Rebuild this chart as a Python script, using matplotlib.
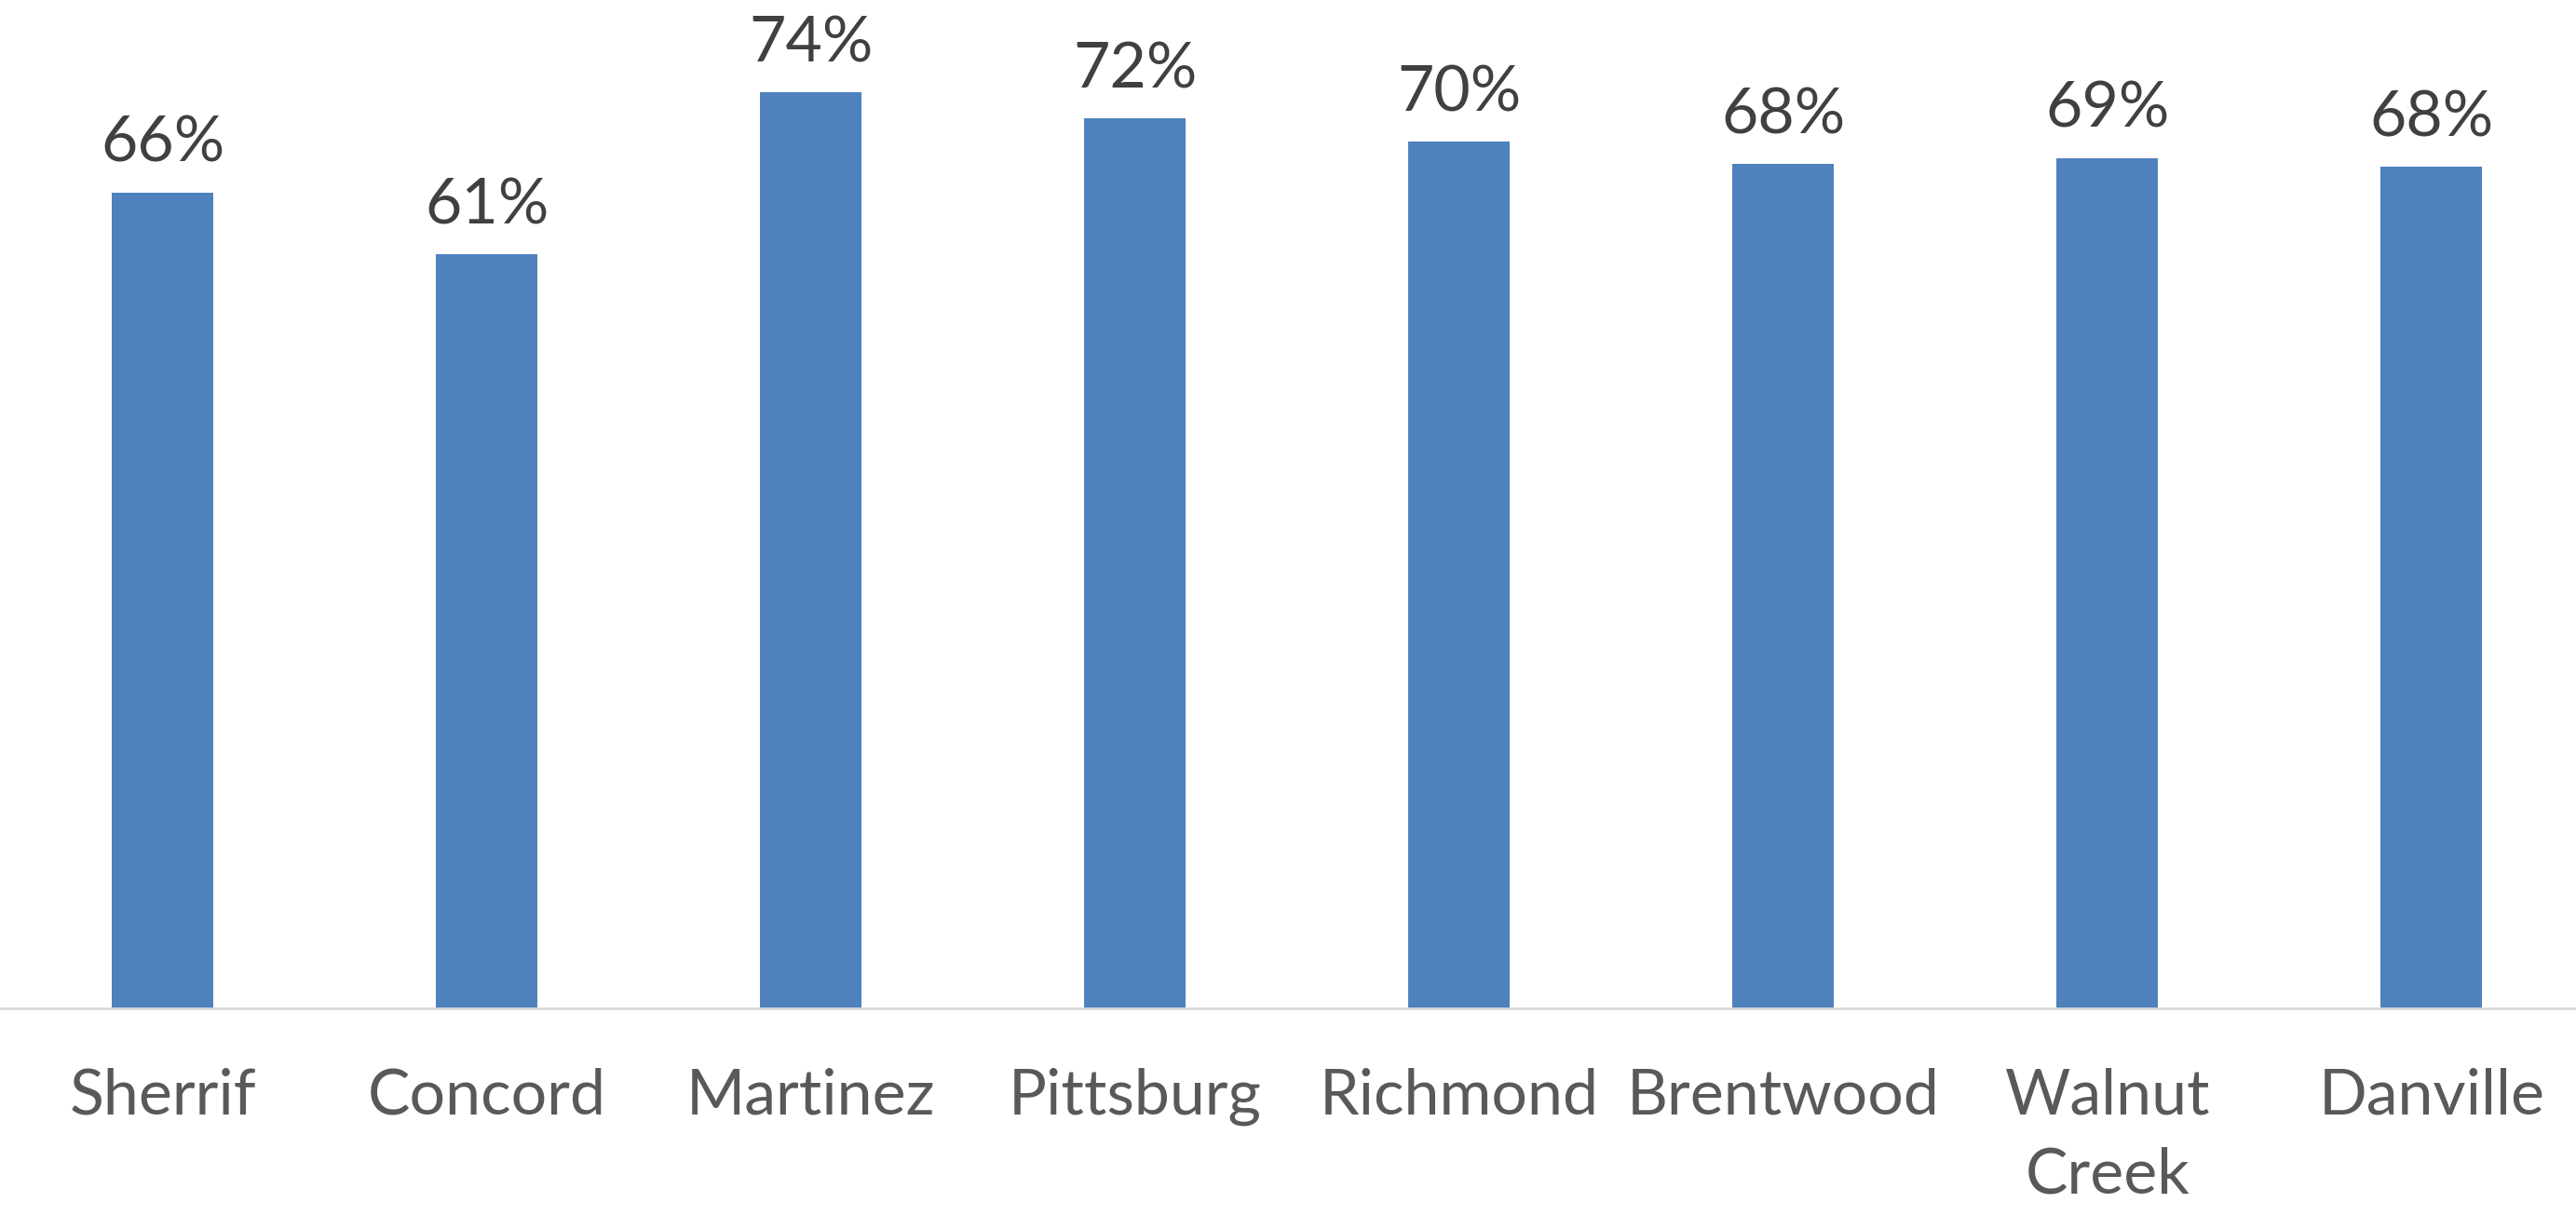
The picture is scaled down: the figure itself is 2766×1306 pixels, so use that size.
import numpy as np
import matplotlib
matplotlib.use('Agg')
import matplotlib.pyplot as plt

plt.rcParams['font.family'] = ['Lato', 'DejaVu Sans']

# data
sites = ['Sherrif', 'Concord', 'Martinez', 'Pittsburg', 'Richmond', 'Brentwood', 'Walnut\nCreek', 'Danville']
rates = [0.660, 0.610, 0.741, 0.720, 0.701, 0.683, 0.688, 0.681]

fig = plt.figure(figsize=(27.66, 13.06), dpi=100)
ax = fig.add_axes([0.0, 0.1708, 1.0, 0.8132])

x = np.arange(len(sites))
bars = ax.bar(x, rates, width=0.314, color='#4F81BD', zorder=2)

for b, r in zip(bars, rates):
    ax.annotate(f'{r*100:.0f}%', (b.get_x() + b.get_width() / 2, b.get_height()),
                xytext=(0, 15), textcoords='offset points', ha='center', va='bottom',
                fontsize=49, color='#404040')

ax.set_xlim(-0.502, 7.446)
ax.set_ylim(0, 0.8)
ax.set_xticks(x)
ax.set_xticklabels(sites, fontsize=49, color='#595959', linespacing=1.45)
ax.tick_params(axis='x', length=0, pad=46)
ax.set_yticks([])
for s in ['top', 'right', 'left']:
    ax.spines[s].set_visible(False)
ax.spines['bottom'].set_color('#D9D9D9')
ax.spines['bottom'].set_linewidth(2)

fig.savefig('out.png', dpi=100)
